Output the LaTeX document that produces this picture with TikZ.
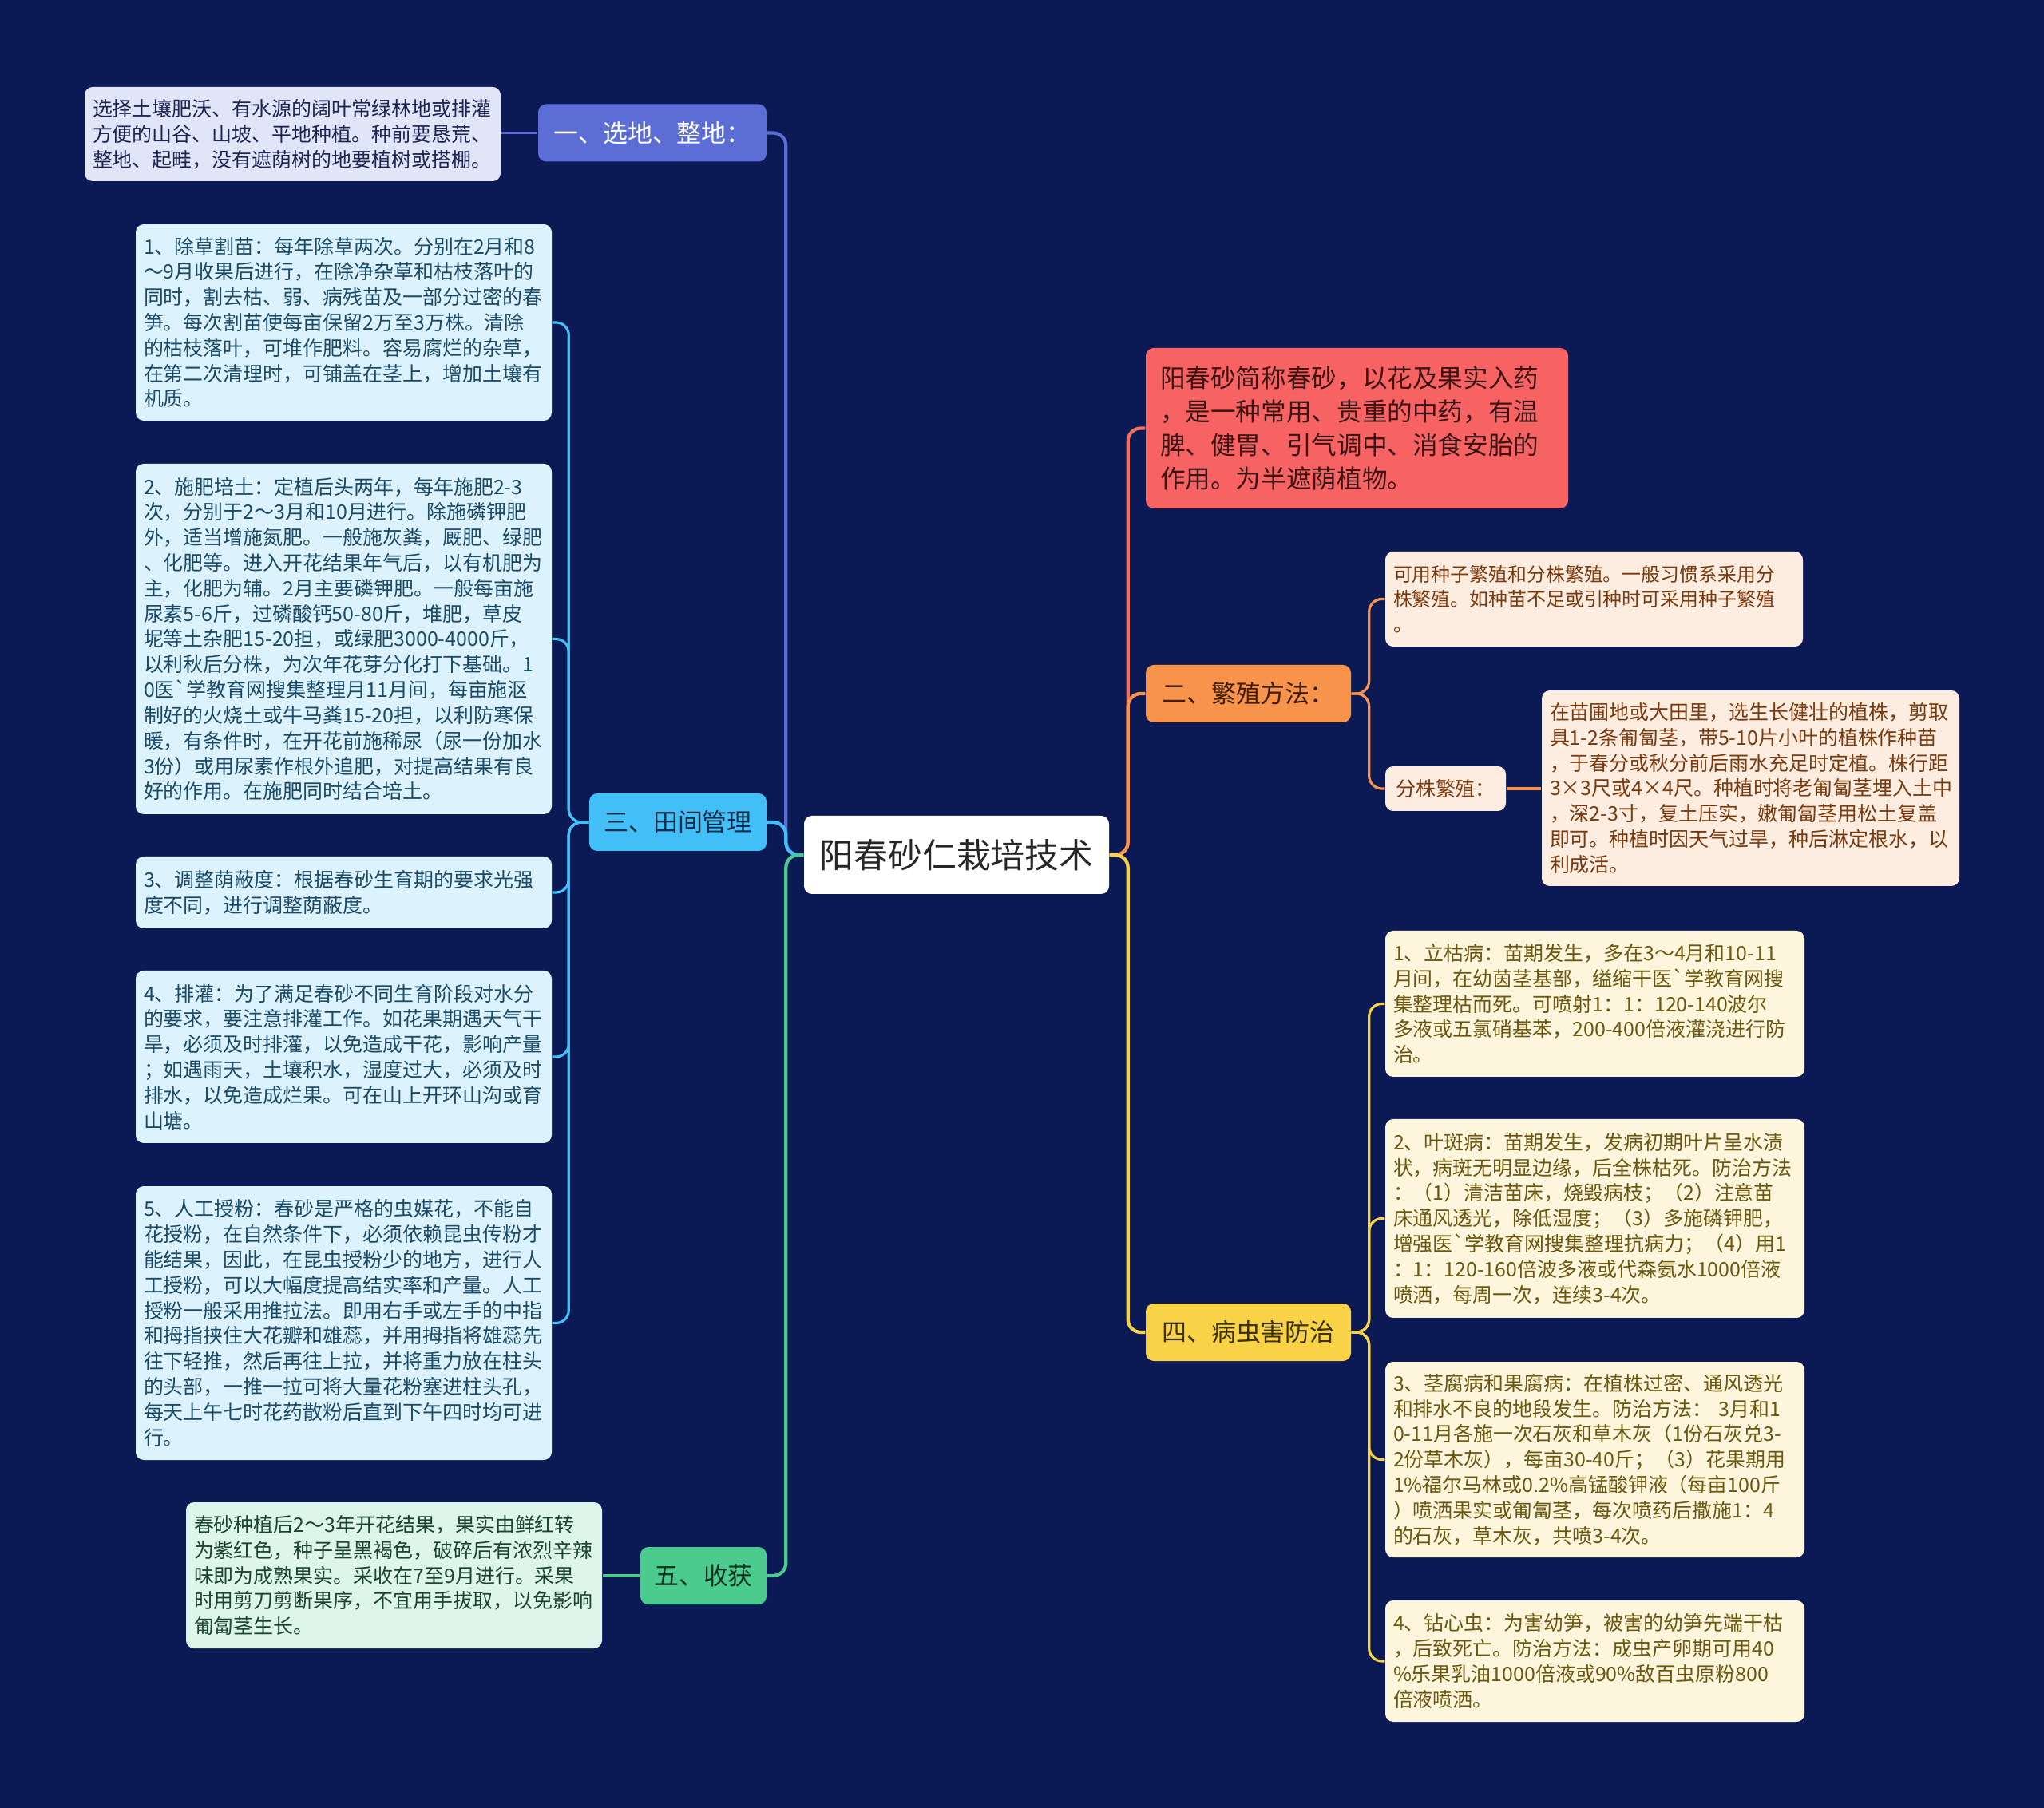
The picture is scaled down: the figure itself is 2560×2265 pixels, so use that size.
\documentclass[tikz,border=0pt]{standalone}
\usepackage{fontspec}
\setmainfont{Noto Sans CJK SC}[Ligatures=TeXOff]
\usepackage{tikz}
\usetikzlibrary{positioning}
\definecolor{NavyBg}{HTML}{0B1A55}
\definecolor{LavFill}{HTML}{E1E5F8}
\definecolor{LavText}{HTML}{1C2452}
\definecolor{LavMain}{HTML}{5C6ED6}
\definecolor{SkyFill}{HTML}{DCF3FD}
\definecolor{SkyText}{HTML}{1B4A68}
\definecolor{SkyMain}{HTML}{42BFF7}
\definecolor{SkyDark}{HTML}{0F2B47}
\definecolor{MintFill}{HTML}{DDF5EA}
\definecolor{MintText}{HTML}{1C4430}
\definecolor{MintMain}{HTML}{4CCB8E}
\definecolor{MintDark}{HTML}{0F3322}
\definecolor{CoralFill}{HTML}{F76363}
\definecolor{CoralText}{HTML}{3B1515}
\definecolor{CoralLine}{HTML}{F2705E}
\definecolor{PeachFill}{HTML}{FDECE0}
\definecolor{PeachText}{HTML}{7A3A0E}
\definecolor{PeachMain}{HTML}{F7934A}
\definecolor{PeachDark}{HTML}{3E1E08}
\definecolor{CreamFill}{HTML}{FEF6DC}
\definecolor{CreamText}{HTML}{6B5710}
\definecolor{CreamMain}{HTML}{F8D347}
\definecolor{CreamDark}{HTML}{3C3007}
\newcommand{\leaffont}{\fontsize{7.1}{9.05}\selectfont}
\newcommand{\branchfont}{\fontsize{8.8}{10}\selectfont}

\begin{document}
\begin{tikzpicture}[x=0.1mm, y=-0.1mm,
  leaf/.style={rectangle, rounded corners=1mm, font=\leaffont, align=left,
    inner xsep=1mm, text width=50.1mm, minimum width=52.1mm},
  branch/.style={rectangle, rounded corners=1mm, font=\branchfont,
    minimum height=7.2mm, inner sep=0pt},
  link/.style={rounded corners=1.6mm, line width=1.2pt},
  twig/.style={rounded corners=1.6mm, line width=0.9pt}
]

\fill[NavyBg] (0,0) rectangle (2560,2265);

\node[rectangle, rounded corners=1mm, fill=white, text=black!85, font=\fontsize{12.2}{14}\selectfont,
  minimum width=38.2mm, minimum height=9.8mm] (root) at (1198,1071) {阳春砂仁栽培技术};

% Left branches
\node[branch, fill=LavMain, text=white, minimum width=28.6mm] (sel) at (817,166.5) {一、选地、整地：};
\node[branch, fill=SkyMain, text=SkyDark, minimum width=22.2mm] (fld) at (849,1030) {三、田间管理};
\node[branch, fill=MintMain, text=MintDark, minimum width=15.8mm] (hvt) at (881,1974) {五、收获};

\node[leaf, fill=LavFill, text=LavText, minimum height=11.8mm] (selleaf) at (366.5,168)
  {选择土壤肥沃、有水源的阔叶常绿林地或排灌\\方便的山谷、山坡、平地种植。种前要恳荒、\\整地、起畦，没有遮荫树的地要植树或搭棚。};

\node[leaf, fill=SkyFill, text=SkyText, minimum height=24.6mm] (fa) at (430.5,404)
  {1、除草割苗：每年除草两次。分别在2月和8\\～9月收果后进行，在除净杂草和枯枝落叶的\\同时，割去枯、弱、病残苗及一部分过密的春\\笋。每次割苗使每亩保留2万至3万株。清除\\的枯枝落叶，可堆作肥料。容易腐烂的杂草，\\在第二次清理时，可铺盖在茎上，增加土壤有\\机质。};
\node[leaf, fill=SkyFill, text=SkyText, minimum height=43.9mm] (fb) at (430.5,800.5)
  {2、施肥培土：定植后头两年，每年施肥2-3\\次，分别于2～3月和10月进行。除施磷钾肥\\外，适当增施氮肥。一般施灰粪，厩肥、绿肥\\、化肥等。进入开花结果年气后，以有机肥为\\主，化肥为辅。2月主要磷钾肥。一般每亩施\\尿素5-6斤，过磷酸钙50-80斤，堆肥，草皮\\坭等土杂肥15-20担，或绿肥3000-4000斤，\\以利秋后分株，为次年花芽分化打下基础。1\\0医`学教育网搜集整理月11月间，每亩施沤\\制好的火烧土或牛马粪15-20担，以利防寒保\\暖，有条件时，在开花前施稀尿（尿一份加水\\3份）或用尿素作根外追肥，对提高结果有良\\好的作用。在施肥同时结合培土。};
\node[leaf, fill=SkyFill, text=SkyText, minimum height=9.0mm] (fc) at (430.5,1118)
  {3、调整荫蔽度：根据春砂生育期的要求光强\\度不同，进行调整荫蔽度。};
\node[leaf, fill=SkyFill, text=SkyText, minimum height=21.6mm] (fd) at (430.5,1324)
  {4、排灌：为了满足春砂不同生育阶段对水分\\的要求，要注意排灌工作。如花果期遇天气干\\旱，必须及时排灌，以免造成干花，影响产量\\；如遇雨天，土壤积水，湿度过大，必须及时\\排水，以免造成烂果。可在山上开环山沟或育\\山塘。};
\node[leaf, fill=SkyFill, text=SkyText, minimum height=34.3mm] (fe) at (430.5,1657.5)
  {5、人工授粉：春砂是严格的虫媒花，不能自\\花授粉，在自然条件下，必须依赖昆虫传粉才\\能结果，因此，在昆虫授粉少的地方，进行人\\工授粉，可以大幅度提高结实率和产量。人工\\授粉一般采用推拉法。即用右手或左手的中指\\和拇指挟住大花瓣和雄蕊，并用拇指将雄蕊先\\往下轻推，然后再往上拉，并将重力放在柱头\\的头部，一推一拉可将大量花粉塞进柱头孔，\\每天上午七时花药散粉后直到下午四时均可进\\行。};

\node[leaf, fill=MintFill, text=MintText, minimum height=18.3mm] (hvtleaf) at (493.5,1973.5)
  {春砂种植后2～3年开花结果，果实由鲜红转\\为紫红色，种子呈黑褐色，破碎后有浓烈辛辣\\味即为成熟果实。采收在7至9月进行。采果\\时用剪刀剪断果序，不宜用手拔取，以免影响\\匍匐茎生长。};

% Right branches
\node[rectangle, rounded corners=1mm, fill=CoralFill, text=CoralText, font=\fontsize{9}{12}\selectfont,
  align=left, inner xsep=1.8mm, text width=49.3mm, minimum height=20.1mm] (intro) at (1699.5,536.5)
  {阳春砂简称春砂，以花及果实入药\\，是一种常用、贵重的中药，有温\\脾、健胃、引气调中、消食安胎的\\作用。为半遮荫植物。};
\node[branch, fill=PeachMain, text=PeachDark, minimum width=25.7mm] (prop) at (1563.5,869) {二、繁殖方法：};
\node[branch, fill=CreamMain, text=CreamDark, minimum width=25.7mm] (pest) at (1563.5,1669) {四、病虫害防治};

\node[leaf, fill=PeachFill, text=PeachText, font=\fontsize{6.8}{9.05}\selectfont,
  text width=50.3mm, minimum width=52.3mm, minimum height=11.9mm] (pa) at (1996.5,750.5)
  {可用种子繁殖和分株繁殖。一般习惯系采用分\\株繁殖。如种苗不足或引种时可采用种子繁殖\\。};
\node[rectangle, rounded corners=1mm, fill=PeachFill, text=PeachText, font=\leaffont,
  minimum width=15.1mm, minimum height=5.6mm, inner sep=0pt] (split) at (1810.5,988) {分株繁殖：};
\node[leaf, fill=PeachFill, text=PeachText, text width=50.3mm, minimum width=52.3mm,
  minimum height=24.5mm] (splitleaf) at (2192.5,987.5)
  {在苗圃地或大田里，选生长健壮的植株，剪取\\具1-2条匍匐茎，带5-10片小叶的植株作种苗\\，于春分或秋分前后雨水充足时定植。株行距\\3×3尺或4×4尺。种植时将老匍匐茎埋入土中\\，深2-3寸，复土压实，嫩匍匐茎用松土复盖\\即可。种植时因天气过旱，种后淋定根水，以\\利成活。};

\node[leaf, fill=CreamFill, text=CreamText, text width=50.5mm, minimum width=52.5mm,
  minimum height=18.3mm] (pb1) at (1997.5,1257.5)
  {1、立枯病：苗期发生，多在3～4月和10-11\\月间，在幼茵茎基部，缢缩干医`学教育网搜\\集整理枯而死。可喷射1：1：120-140波尔\\多液或五氯硝基苯，200-400倍液灌浇进行防\\治。};
\node[leaf, fill=CreamFill, text=CreamText, text width=50.5mm, minimum width=52.5mm,
  minimum height=24.9mm] (pb2) at (1997.5,1526.5)
  {2、叶斑病：苗期发生，发病初期叶片呈水渍\\状，病斑无明显边缘，后全株枯死。防治方法\\：（1）清洁苗床，烧毁病枝；（2）注意苗\\床通风透光，除低湿度；（3）多施磷钾肥，\\增强医`学教育网搜集整理抗病力；（4）用1\\：1：120-160倍波多液或代森氨水1000倍液\\喷洒，每周一次，连续3-4次。};
\node[leaf, fill=CreamFill, text=CreamText, text width=50.5mm, minimum width=52.5mm,
  minimum height=24.5mm] (pb3) at (1997.5,1828.5)
  {3、茎腐病和果腐病：在植株过密、通风透光\\和排水不良的地段发生。防治方法：~3月和1\\0-11月各施一次石灰和草木灰（1份石灰兑3-\\2份草木灰），每亩30-40斤；（3）花果期用\\1\%福尔马林或0.2\%高锰酸钾液（每亩100斤\\）喷洒果实或匍匐茎，每次喷药后撒施1：4\\的石灰，草木灰，共喷3-4次。};
\node[leaf, fill=CreamFill, text=CreamText, text width=50.5mm, minimum width=52.5mm,
  minimum height=15.2mm] (pb4) at (1997.5,2081)
  {4、钻心虫：为害幼笋，被害的幼笋先端干枯\\，后致死亡。防治方法：成虫产卵期可用40\\\%乐果乳油1000倍液或90\%敌百虫原粉800\\倍液喷洒。};

% Main links
\draw[link, LavMain] (root.west) -- ++(-22,0) |- (sel.east);
\draw[link, SkyMain] (root.west) -- ++(-22,0) |- (fld.east);
\draw[link, MintMain] (root.west) -- ++(-22,0) |- (hvt.east);
\draw[link, CoralLine] (root.east) -- ++(23,0) |- (intro.west);
\draw[link, PeachMain] (root.east) -- ++(23,0) |- (prop.west);
\draw[link, CreamMain] (root.east) -- ++(23,0) |- (pest.west);

% Leaf links
\draw[twig, LavMain] (sel.west) -- (selleaf.east |- sel.west);
\draw[twig, SkyMain] (fld.west) -- ++(-25,0) |- (fa.east);
\draw[twig, SkyMain] (fld.west) -- ++(-25,0) |- (fb.east);
\draw[twig, SkyMain] (fld.west) -- ++(-25,0) |- (fc.east);
\draw[twig, SkyMain] (fld.west) -- ++(-25,0) |- (fd.east);
\draw[twig, SkyMain] (fld.west) -- ++(-25,0) |- (fe.east);
\draw[twig, MintMain] (hvt.west) -- (hvtleaf.east |- hvt.west);
\draw[twig, PeachMain] (prop.east) -- ++(22,0) |- (pa.west);
\draw[twig, PeachMain] (prop.east) -- ++(22,0) |- (split.west);
\draw[twig, PeachMain] (split.east) -- (splitleaf.west |- split.east);
\draw[twig, CreamMain] (pest.east) -- ++(22,0) |- (pb1.west);
\draw[twig, CreamMain] (pest.east) -- ++(22,0) |- (pb2.west);
\draw[twig, CreamMain] (pest.east) -- ++(22,0) |- (pb3.west);
\draw[twig, CreamMain] (pest.east) -- ++(22,0) |- (pb4.west);

\end{tikzpicture}
\end{document}
